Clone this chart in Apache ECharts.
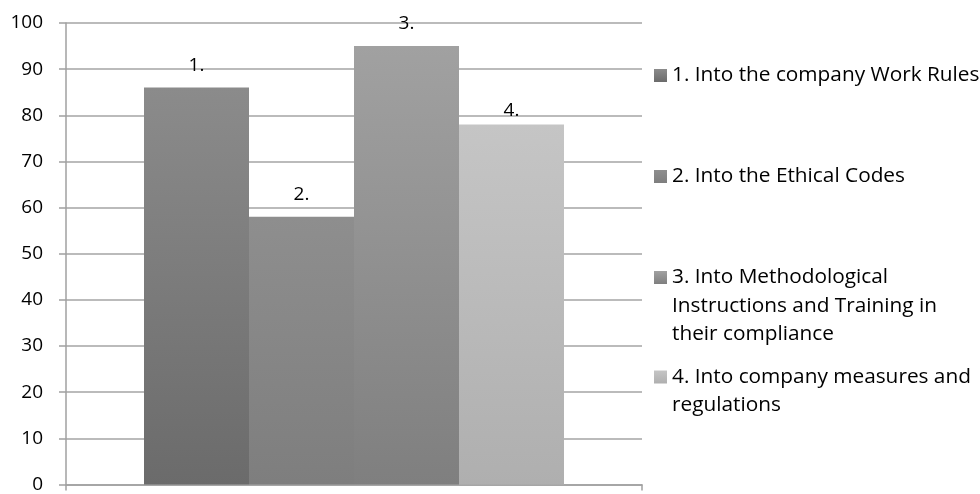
<!DOCTYPE html>
<html>
<head>
<meta charset="utf-8">
<script src="https://cdn.jsdelivr.net/npm/echarts@6/dist/echarts.min.js"></script>
<style>
  html, body { margin: 0; padding: 0; background: #fff; }
  #chart { width: 980px; height: 494px; }
</style>
</head>
<body>
<div id="chart"></div>
<script>
// Survey results: share of respondents (%) per area of integration
const categories = [''];
const seriesNames = [
  '1. Into the company Work Rules',
  '2. Into the Ethical Codes',
  '3. Into Methodological Instructions and Training in their compliance',
  '4. Into company measures and regulations'
];
const legendLines = [
  ['1. Into the company Work Rules'],
  ['2. Into the Ethical Codes'],
  ['3. Into Methodological', 'Instructions and Training in', 'their compliance'],
  ['4. Into company measures and', 'regulations']
];
const barLabels = ['1.', '2.', '3.', '4.'];
const values = [86, 58, 95, 78];
const yTicks = { min: 0, max: 100, interval: 10 };

// Gradient stops (top, bottom) for each bar
const fills = [
  ['#8b8b8b', '#6b6b6b'],
  ['#8e8e8e', '#7e7e7e'],
  ['#a1a1a1', '#7f7f7f'],
  ['#c5c5c5', '#afafaf']
];
const labelDistance = [13, 13, 13, 4];

const FONT = '"Open Sans"';
const FS = 19;
const LEGEND_FS = 20.8;
const LH = 28.3;
const legendCenters = [75.5, 176.5, 277.5, 377];

const chart = echarts.init(document.getElementById('chart'), null, { renderer: 'canvas' });

const series = seriesNames.map((name, i) => ({
  name: name,
  type: 'bar',
  barWidth: 105,
  barGap: '0%',
  data: [values[i]],
  itemStyle: {
    color: new echarts.graphic.LinearGradient(0, 0, 0, 1, [
      { offset: 0, color: fills[i][0] },
      { offset: 1, color: fills[i][1] }
    ])
  },
  label: {
    show: true,
    position: 'top',
    distance: labelDistance[i],
    formatter: () => barLabels[i],
    color: '#000',
    fontFamily: FONT,
    fontSize: FS
  },
  emphasis: { disabled: true }
}));

// One legend block per entry; blank leading lines keep the marker
// level with the first line of a wrapped entry
const legends = seriesNames.map((name, i) => {
  const n = legendLines[i].length;
  const lead = new Array(n - 1).fill('');
  return {
    show: true,
    orient: 'vertical',
    left: 654,
    top: legendCenters[i] - (2 * n - 1) * LH / 2,
    padding: 0,
    itemWidth: 13,
    itemHeight: 13,
    icon: 'rect',
    selectedMode: false,
    data: [name],
    formatter: () => lead.concat(legendLines[i]).join('\n'),
    textStyle: {
      color: '#000',
      fontFamily: FONT,
      fontSize: LEGEND_FS,
      lineHeight: LH
    }
  };
});

chart.setOption({
  animation: false,
  backgroundColor: '#fff',
  grid: { left: 66, right: 338, top: 23, bottom: 5, containLabel: false },
  legend: legends,
  xAxis: {
    type: 'category',
    data: categories,
    axisLine: { show: true, lineStyle: { color: '#a0a0a0', width: 1.5 } },
    axisTick: { show: true, length: 6, lineStyle: { color: '#a0a0a0', width: 1.5 } },
    axisLabel: { show: false },
    splitLine: { show: false }
  },
  yAxis: {
    type: 'value',
    min: yTicks.min,
    max: yTicks.max,
    interval: yTicks.interval,
    axisLine: { show: true, lineStyle: { color: '#a0a0a0', width: 1.5 } },
    axisTick: { show: true, length: 7, lineStyle: { color: '#a0a0a0', width: 1.5 } },
    axisLabel: { color: '#000', fontFamily: FONT, fontSize: FS, margin: 23 },
    splitLine: { show: true, lineStyle: { color: '#a4a4a4', width: 1.5 } }
  },
  series: series
});
</script>
</body>
</html>
